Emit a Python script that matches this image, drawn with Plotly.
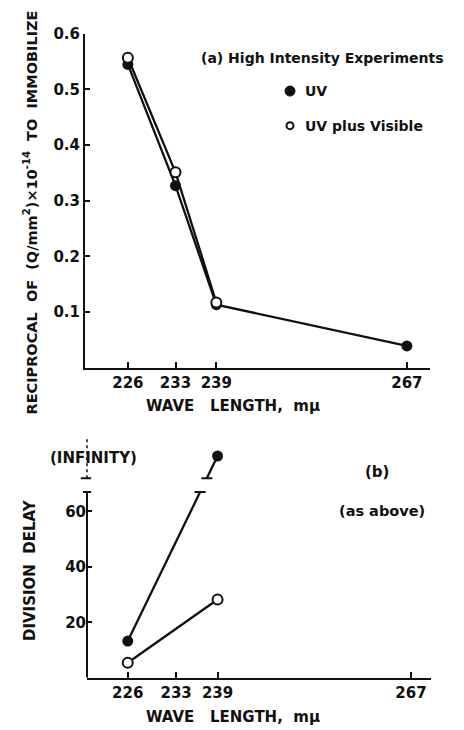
import plotly.graph_objects as go

# ---------------- data ----------------
WAVELENGTHS = [226, 233, 239, 267]
TOP_UV_X = [226, 233, 239, 267]
TOP_UV_Y = [0.545, 0.327, 0.113, 0.039]
TOP_UVVIS_X = [226, 233, 239]
TOP_UVVIS_Y = [0.557, 0.351, 0.117]
TOP_YTICKS = [0.1, 0.2, 0.3, 0.4, 0.5, 0.6]

BOT_UV_X = [226, 239]
BOT_UV_Y = [13.2, float("inf")]
BOT_UVVIS_X = [226, 239]
BOT_UVVIS_Y = [5.4, 28.2]
BOT_YTICKS = [20, 40, 60]

# display positions for the broken axis in panel (b)
AXIS_TOP = 67      # where the finite part of the axis stops
BREAK_LOW = 72     # lower bar of the "infinity" region
INF_PLOT = 80      # plotted position of infinity
BOT_YMAX = 87

OFF = 8            # page body margin
W, H = 456, 722
FONT = "DejaVu Sans"
BLACK = "#111111"


def px(x):
    return (x - OFF) / W


def py(y):
    return 1 - (y - OFF) / H


def plot_y(v):
    return INF_PLOT if v == float("inf") else v


fig = go.Figure()

# ---- panel (a) ----
fig.add_trace(go.Scatter(
    x=TOP_UV_X, y=TOP_UV_Y, mode="lines+markers", xaxis="x", yaxis="y",
    line=dict(color=BLACK, width=2.3),
    marker=dict(symbol="circle", size=11, color=BLACK),
    showlegend=False, cliponaxis=False))
fig.add_trace(go.Scatter(
    x=TOP_UVVIS_X, y=TOP_UVVIS_Y, mode="lines+markers", xaxis="x", yaxis="y",
    line=dict(color=BLACK, width=2.3),
    marker=dict(symbol="circle", size=10, color="white", line=dict(color=BLACK, width=2)),
    showlegend=False, cliponaxis=False))

# ---- panel (b) ----
uv_plot_y = [plot_y(v) for v in BOT_UV_Y]
x0, x1 = BOT_UV_X
y0, y1 = uv_plot_y


def x_at(yv):
    return x0 + (yv - y0) / (y1 - y0) * (x1 - x0)


xa, xb = x_at(AXIS_TOP), x_at(BREAK_LOW)
fig.add_trace(go.Scatter(
    x=[x0, xa, None, xb, x1], y=[y0, AXIS_TOP, None, BREAK_LOW, y1],
    mode="lines", xaxis="x2", yaxis="y2",
    line=dict(color=BLACK, width=2.3), showlegend=False, cliponaxis=False))
fig.add_trace(go.Scatter(
    x=BOT_UV_X, y=uv_plot_y, mode="markers", xaxis="x2", yaxis="y2",
    marker=dict(symbol="circle", size=11, color=BLACK),
    showlegend=False, cliponaxis=False))
fig.add_trace(go.Scatter(
    x=BOT_UVVIS_X, y=BOT_UVVIS_Y, mode="lines+markers", xaxis="x2", yaxis="y2",
    line=dict(color=BLACK, width=2.3),
    marker=dict(symbol="circle", size=10, color="white", line=dict(color=BLACK, width=2)),
    showlegend=False, cliponaxis=False))

tickfont = dict(family=FONT, size=15, color=BLACK, weight="bold")

fig.update_layout(
    width=W, height=H,
    margin=dict(l=0, r=0, t=0, b=0),
    paper_bgcolor="white", plot_bgcolor="white",
    font=dict(family=FONT, size=15, color=BLACK),
    xaxis=dict(domain=[px(85), px(430)], range=[219.7, 270.4], anchor="y",
               tickvals=WAVELENGTHS, ticks="inside", ticklen=6, tickwidth=1.5,
               tickcolor=BLACK, showline=True, linecolor=BLACK, linewidth=2,
               showgrid=False, zeroline=False, tickfont=tickfont),
    yaxis=dict(domain=[py(363), py(25)], range=[0, 0.6], anchor="x",
               tickvals=TOP_YTICKS, tickformat=".1f", ticks="inside", ticklen=5,
               tickwidth=1.5, tickcolor=BLACK, showline=True, linecolor=BLACK,
               linewidth=2, showgrid=False, zeroline=False, tickfont=tickfont),
    xaxis2=dict(domain=[px(87), px(431)], range=[220.1, 269.9], anchor="y2",
                tickvals=WAVELENGTHS, ticks="inside", ticklen=6, tickwidth=1.5,
                tickcolor=BLACK, showline=True, linecolor=BLACK, linewidth=2,
                showgrid=False, zeroline=False, tickfont=tickfont),
    yaxis2=dict(domain=[py(677), py(433)], range=[0, BOT_YMAX], anchor="x2",
                tickvals=BOT_YTICKS, ticks="inside", ticklen=5, tickwidth=1.5,
                tickcolor=BLACK, showline=False, showgrid=False, zeroline=False,
                tickfont=tickfont),
)

shapes = []
# broken y axis of panel (b)
shapes.append(dict(type="line", xref="x2 domain", yref="y2", x0=0, x1=0, y0=0, y1=AXIS_TOP,
                   line=dict(color=BLACK, width=2)))
shapes.append(dict(type="line", xref="x2 domain", yref="y2", x0=-0.012, x1=0.012,
                   y0=AXIS_TOP, y1=AXIS_TOP, line=dict(color=BLACK, width=2)))
shapes.append(dict(type="line", xref="x2 domain", yref="y2", x0=-0.018, x1=0.012,
                   y0=BREAK_LOW, y1=BREAK_LOW, line=dict(color=BLACK, width=2)))
shapes.append(dict(type="line", xref="x2 domain", yref="y2", x0=0, x1=0,
                   y0=BREAK_LOW, y1=BOT_YMAX, line=dict(color=BLACK, width=1.5, dash="dot")))
# break bars on the UV line
shapes.append(dict(type="line", xref="x2", yref="y2", x0=xa - 0.8, x1=xa + 0.8,
                   y0=AXIS_TOP, y1=AXIS_TOP, line=dict(color=BLACK, width=2)))
shapes.append(dict(type="line", xref="x2", yref="y2", x0=xb - 0.8, x1=xb + 0.8,
                   y0=BREAK_LOW, y1=BREAK_LOW, line=dict(color=BLACK, width=2)))
# legend symbols
shapes.append(dict(type="circle", xref="paper", yref="paper", xsizemode="pixel",
                   ysizemode="pixel", xanchor=px(290), yanchor=py(83),
                   x0=-5, x1=5, y0=-5, y1=5, fillcolor=BLACK, line=dict(color=BLACK, width=1)))
shapes.append(dict(type="circle", xref="paper", yref="paper", xsizemode="pixel",
                   ysizemode="pixel", xanchor=px(290), yanchor=py(118),
                   x0=-3.5, x1=3.5, y0=-3.5, y1=3.5, fillcolor="white",
                   line=dict(color=BLACK, width=2)))
fig.update_layout(shapes=shapes)


def ann(text, x, y, size=15, angle=0, xanchor="center", weight="bold"):
    return dict(text=text, x=px(x), y=py(y), xref="paper", yref="paper",
                showarrow=False, xanchor=xanchor, yanchor="middle", textangle=angle,
                font=dict(family=FONT, size=size, color=BLACK, weight=weight))


annotations = [
    ann("(a) High Intensity Experiments", 199, 50, size=14, xanchor="left"),
    ann("UV", 303, 83, size=14, xanchor="left"),
    ann("UV plus Visible", 303, 118, size=14, xanchor="left"),
    ann("RECIPROCAL  OF  (Q/mm<sup>2</sup>)×10<sup>-14</sup>  TO  IMMOBILIZE", 30, 206, size=14.5, angle=-90),
    ann("WAVE   LENGTH,  mμ", 233, 402, size=15),
    ann("DIVISION  DELAY", 30, 568, size=15, angle=-90),
    ann("WAVE   LENGTH,  mμ", 233, 717, size=15),
    ann("(INFINITY)", 93, 455, size=15),
    ann("(b)", 377, 469, size=15),
    ann("(as above)", 382, 508, size=14.5),
]
fig.update_layout(annotations=annotations)

fig.write_html("out.html")
